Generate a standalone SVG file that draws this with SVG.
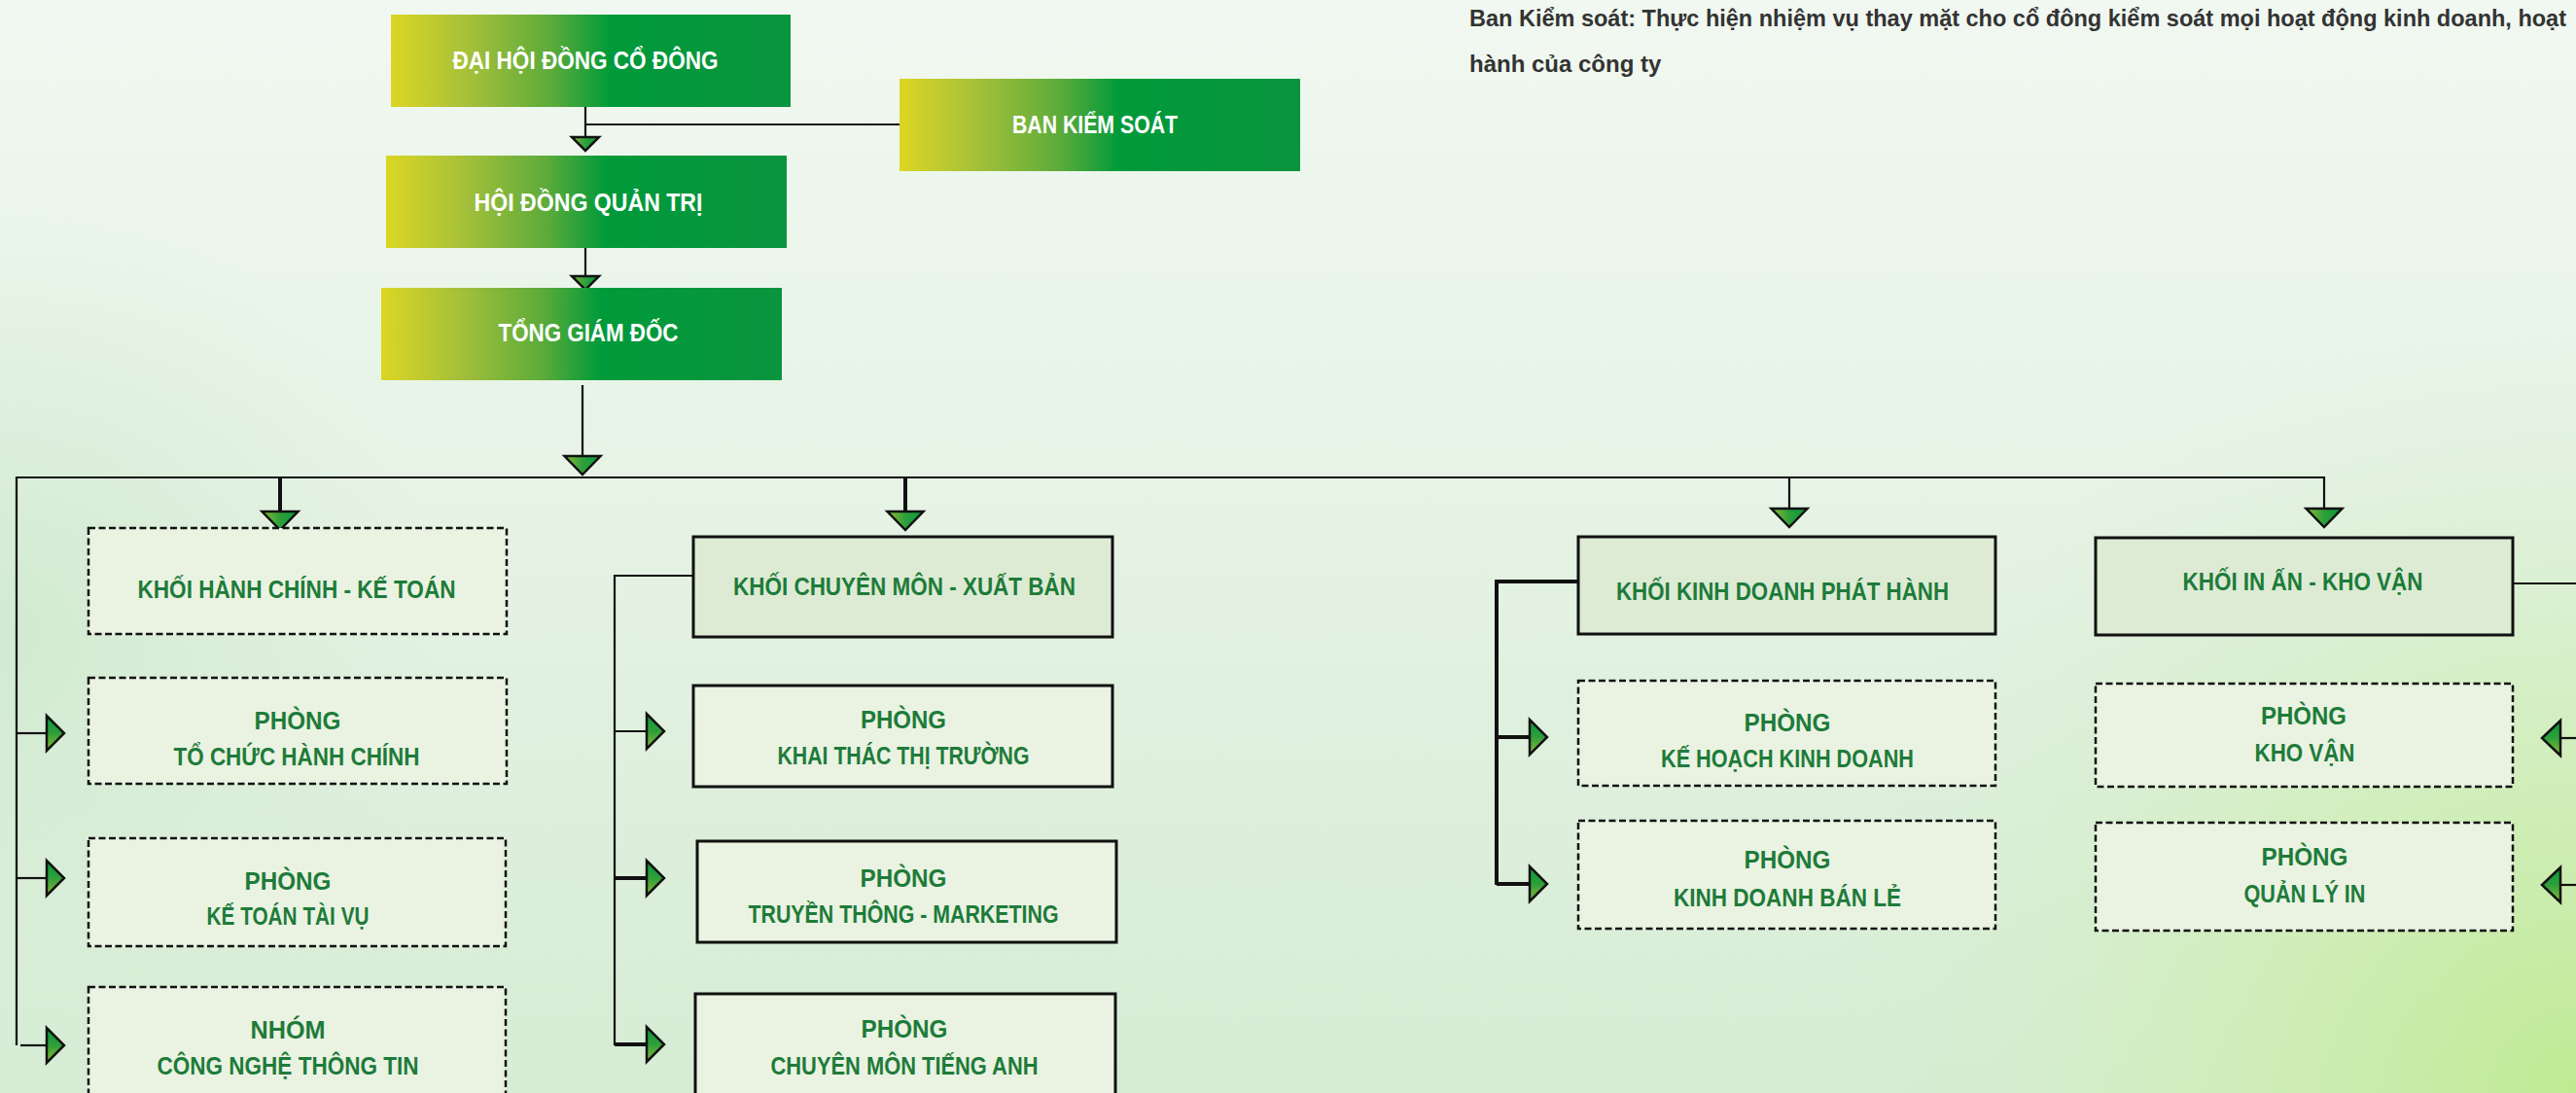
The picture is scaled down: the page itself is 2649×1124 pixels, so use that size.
<svg xmlns="http://www.w3.org/2000/svg" xmlns:xlink="http://www.w3.org/1999/xlink" width="2649" height="1124" viewBox="0 0 2649 1124">
<style>
.t{font-family:"Liberation Sans",Arial,sans-serif;font-weight:bold;font-size:26px;fill:#1e7b3a;text-anchor:middle}
.w{font-family:"Liberation Sans",Arial,sans-serif;font-weight:bold;font-size:26px;fill:#ffffff;text-anchor:middle}
.note{font-family:"Liberation Sans",Arial,sans-serif;font-weight:bold;font-size:24px;fill:#333333}
.top{fill:url(#gbox)}
.dash{fill:#eaf3e2;stroke:#111;stroke-width:2.5;stroke-dasharray:7 3.5}
.sol{fill:#eaf3e2;stroke:#111;stroke-width:3}
.khoi{fill:#ddebd4;stroke:#111;stroke-width:3}
.ln{stroke:#111;stroke-width:2.2;fill:none}
.thk{stroke:#111;stroke-width:4;fill:none}
.ah{stroke:#111;stroke-width:2.5;stroke-linejoin:miter}
</style>
<defs>
<linearGradient id="bg" x1="0" y1="0" x2="0" y2="1">
<stop offset="0" stop-color="#f1f8f1"/>
<stop offset="0.45" stop-color="#e6f3e5"/>
<stop offset="1" stop-color="#d6ecd4"/>
</linearGradient>
<radialGradient id="br" cx="2649" cy="1124" r="800" gradientUnits="userSpaceOnUse">
<stop offset="0" stop-color="#bfea92" stop-opacity="1"/>
<stop offset="0.5" stop-color="#cdeeb0" stop-opacity="0.6"/>
<stop offset="1" stop-color="#d6ecd4" stop-opacity="0"/>
</radialGradient>
<radialGradient id="bl" cx="0" cy="650" r="450" gradientUnits="userSpaceOnUse">
<stop offset="0" stop-color="#cfe9cf" stop-opacity="0.9"/>
<stop offset="1" stop-color="#d6ecd4" stop-opacity="0"/>
</radialGradient>
<linearGradient id="gbox" x1="0" y1="0" x2="1" y2="0">
<stop offset="0" stop-color="#dcd624"/>
<stop offset="0.2" stop-color="#a3c03a"/>
<stop offset="0.4" stop-color="#5dab3a"/>
<stop offset="0.55" stop-color="#009a3a"/>
<stop offset="1" stop-color="#0a943e"/>
</linearGradient>
<linearGradient id="gh" x1="0" y1="0" x2="1" y2="0">
<stop offset="0" stop-color="#8dbb34"/>
<stop offset="0.5" stop-color="#2e9f3a"/>
<stop offset="1" stop-color="#079a3c"/>
</linearGradient>
<linearGradient id="gv" x1="0" y1="0" x2="0" y2="1">
<stop offset="0" stop-color="#079a3c"/>
<stop offset="0.5" stop-color="#2e9f3a"/>
<stop offset="1" stop-color="#8dbb34"/>
</linearGradient>
<polygon id="ads" class="ah" points="-14,0 14,0 0,14" fill="url(#gh)"/>
<polygon id="ad" class="ah" points="-18.5,0 18.5,0 0,19" fill="url(#gh)"/>
<polygon id="ar" class="ah" points="0,-18 0,18 18,0" fill="url(#gv)"/>
<polygon id="al" class="ah" points="0,-18 0,18 -19,0" fill="url(#gv)"/>
</defs>

<rect width="2649" height="1124" fill="url(#bg)"/>
<rect width="2649" height="1124" fill="url(#bl)"/>
<rect width="2649" height="1124" fill="url(#br)"/>

<text class="note" x="1511" y="27" textLength="1128" lengthAdjust="spacingAndGlyphs">Ban Kiểm soát: Thực hiện nhiệm vụ thay mặt cho cổ đông kiểm soát mọi hoạt động kinh doanh, hoạt</text>
<text class="note" x="1511" y="74">hành của công ty</text>

<g id="connectors">
<line class="ln" x1="602" y1="110" x2="602" y2="141"/>
<line class="ln" x1="602" y1="128" x2="925" y2="128"/>
<use href="#ads" x="602" y="141"/>
<line class="ln" x1="602" y1="255" x2="602" y2="284"/>
<use href="#ads" x="602" y="284"/>
<line class="ln" x1="599" y1="396" x2="599" y2="469"/>
<use href="#ad" x="599" y="469"/>
<polyline class="ln" points="17,1075 17,491 2390,491 2390,523"/>
<use href="#ad" x="2390" y="523"/>
<line class="thk" x1="288" y1="492" x2="288" y2="526"/>
<use href="#ad" x="288" y="526"/>
<line class="thk" x1="931" y1="492" x2="931" y2="526"/>
<use href="#ad" x="931" y="526"/>
<line class="ln" x1="1840" y1="491" x2="1840" y2="523"/>
<use href="#ad" x="1840" y="523"/>
<line class="ln" x1="17" y1="754" x2="48" y2="754"/>
<use href="#ar" x="48" y="754"/>
<line class="ln" x1="17" y1="903" x2="48" y2="903"/>
<use href="#ar" x="48" y="903"/>
<line class="ln" x1="21" y1="1075" x2="48" y2="1075"/>
<use href="#ar" x="48" y="1075"/>
<polyline class="ln" points="713,592 632,592 632,1075"/>
<line class="ln" x1="632" y1="752" x2="665" y2="752"/>
<use href="#ar" x="665" y="752"/>
<line class="thk" x1="632" y1="903" x2="665" y2="903"/>
<use href="#ar" x="665" y="903"/>
<line class="thk" x1="632" y1="1074" x2="665" y2="1074"/>
<use href="#ar" x="665" y="1074"/>
<polyline class="thk" points="1623,598 1539,598 1539,910"/>
<line class="thk" x1="1539" y1="758" x2="1573" y2="758"/>
<use href="#ar" x="1573" y="758"/>
<line class="thk" x1="1539" y1="909" x2="1573" y2="909"/>
<use href="#ar" x="1573" y="909"/>
<line class="ln" x1="2584" y1="600" x2="2649" y2="600"/>
<line class="ln" x1="2633" y1="759" x2="2649" y2="759"/>
<use href="#al" x="2633" y="759"/>
<line class="ln" x1="2633" y1="910" x2="2649" y2="910"/>
<use href="#al" x="2633" y="910"/>
</g>

<g id="dai-hoi-dong-co-dong"><rect class="top" x="402" y="15" width="411" height="95"/><text class="w" x="602" y="71" textLength="273" lengthAdjust="spacingAndGlyphs">ĐẠI HỘI ĐỒNG CỔ ĐÔNG</text></g>
<g id="ban-kiem-soat"><rect class="top" x="925" y="81" width="412" height="95"/><text class="w" x="1126" y="137" textLength="170" lengthAdjust="spacingAndGlyphs">BAN KIỂM SOÁT</text></g>
<g id="hoi-dong-quan-tri"><rect class="top" x="397" y="160" width="412" height="95"/><text class="w" x="605" y="217" textLength="235" lengthAdjust="spacingAndGlyphs">HỘI ĐỒNG QUẢN TRỊ</text></g>
<g id="tong-giam-doc"><rect class="top" x="392" y="296" width="412" height="95"/><text class="w" x="605" y="351" textLength="185" lengthAdjust="spacingAndGlyphs">TỔNG GIÁM ĐỐC</text></g>

<g id="khoi-hanh-chinh-ke-toan"><rect class="dash" x="91" y="543" width="430" height="109"/><text class="t" x="305" y="615" textLength="327" lengthAdjust="spacingAndGlyphs">KHỐI HÀNH CHÍNH - KẾ TOÁN</text></g>
<g id="phong-to-chuc-hanh-chinh"><rect class="dash" x="91" y="697" width="430" height="109"/><text class="t" x="306" y="750" textLength="89" lengthAdjust="spacingAndGlyphs">PHÒNG</text><text class="t" x="305" y="787" textLength="253" lengthAdjust="spacingAndGlyphs">TỔ CHỨC HÀNH CHÍNH</text></g>
<g id="phong-ke-toan-tai-vu"><rect class="dash" x="91" y="862" width="429" height="111"/><text class="t" x="296" y="915" textLength="89" lengthAdjust="spacingAndGlyphs">PHÒNG</text><text class="t" x="296" y="951" textLength="167" lengthAdjust="spacingAndGlyphs">KẾ TOÁN TÀI VỤ</text></g>
<g id="nhom-cong-nghe-thong-tin"><rect class="dash" x="91" y="1015" width="429" height="115"/><text class="t" x="296" y="1068" textLength="77" lengthAdjust="spacingAndGlyphs">NHÓM</text><text class="t" x="296" y="1105" textLength="269" lengthAdjust="spacingAndGlyphs">CÔNG NGHỆ THÔNG TIN</text></g>

<g id="khoi-chuyen-mon-xuat-ban"><rect class="khoi" x="713" y="552" width="431" height="103"/><text class="t" x="930" y="612" textLength="352" lengthAdjust="spacingAndGlyphs">KHỐI CHUYÊN MÔN - XUẤT BẢN</text></g>
<g id="phong-khai-thac-thi-truong"><rect class="sol" x="713" y="705" width="431" height="104"/><text class="t" x="929" y="749" textLength="88" lengthAdjust="spacingAndGlyphs">PHÒNG</text><text class="t" x="929" y="786" textLength="259" lengthAdjust="spacingAndGlyphs">KHAI THÁC THỊ TRƯỜNG</text></g>
<g id="phong-truyen-thong-marketing"><rect class="sol" x="717" y="865" width="431" height="104"/><text class="t" x="929" y="912" textLength="89" lengthAdjust="spacingAndGlyphs">PHÒNG</text><text class="t" x="929" y="949" textLength="319" lengthAdjust="spacingAndGlyphs">TRUYỀN THÔNG - MARKETING</text></g>
<g id="phong-chuyen-mon-tieng-anh"><rect class="sol" x="715" y="1022" width="432" height="110"/><text class="t" x="930" y="1067" textLength="89" lengthAdjust="spacingAndGlyphs">PHÒNG</text><text class="t" x="930" y="1105" textLength="275" lengthAdjust="spacingAndGlyphs">CHUYÊN MÔN TIẾNG ANH</text></g>

<g id="khoi-kinh-doanh-phat-hanh"><rect class="khoi" x="1623" y="552" width="429" height="100"/><text class="t" x="1833" y="617" textLength="342" lengthAdjust="spacingAndGlyphs">KHỐI KINH DOANH PHÁT HÀNH</text></g>
<g id="phong-ke-hoach-kinh-doanh"><rect class="dash" x="1623" y="700" width="429" height="108"/><text class="t" x="1838" y="752" textLength="89" lengthAdjust="spacingAndGlyphs">PHÒNG</text><text class="t" x="1838" y="789" textLength="260" lengthAdjust="spacingAndGlyphs">KẾ HOẠCH KINH DOANH</text></g>
<g id="phong-kinh-doanh-ban-le"><rect class="dash" x="1623" y="844" width="429" height="111"/><text class="t" x="1838" y="893" textLength="89" lengthAdjust="spacingAndGlyphs">PHÒNG</text><text class="t" x="1838" y="932" textLength="234" lengthAdjust="spacingAndGlyphs">KINH DOANH BÁN LẺ</text></g>

<g id="khoi-in-an-kho-van"><rect class="khoi" x="2155" y="553" width="429" height="100"/><text class="t" x="2368" y="607" textLength="247" lengthAdjust="spacingAndGlyphs">KHỐI IN ẤN - KHO VẬN</text></g>
<g id="phong-kho-van"><rect class="dash" x="2155" y="703" width="429" height="106"/><text class="t" x="2369" y="745" textLength="88" lengthAdjust="spacingAndGlyphs">PHÒNG</text><text class="t" x="2370" y="783" textLength="103" lengthAdjust="spacingAndGlyphs">KHO VẬN</text></g>
<g id="phong-quan-ly-in"><rect class="dash" x="2155" y="846" width="429" height="111"/><text class="t" x="2370" y="890" textLength="89" lengthAdjust="spacingAndGlyphs">PHÒNG</text><text class="t" x="2370" y="928" textLength="125" lengthAdjust="spacingAndGlyphs">QUẢN LÝ IN</text></g>
</svg>
